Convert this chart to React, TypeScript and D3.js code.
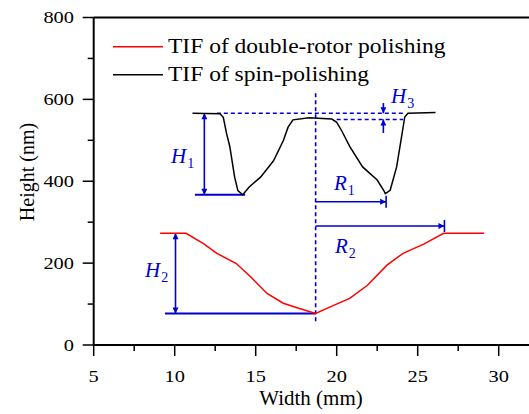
import React from "react";
import * as d3 from "d3";

// values
const redX = [9.1, 10.7, 11.8, 12.6, 13.8, 14.7, 15.7, 16.7, 17.7, 18.7, 19.6, 20.8, 21.9, 23.1, 24.1, 25.4, 26.6, 29.1];
const redY = [273, 273, 247, 224, 199, 166, 126, 102, 89, 77, 93, 114, 146, 195, 224, 247, 273, 273];

const blackX = [11.1, 12.8, 13.0, 13.2, 13.4, 13.7, 13.9, 14.2, 14.6, 15.3, 16.1, 16.7, 17.0, 17.3, 18.3, 19.7, 20.0, 20.3, 20.8, 21.6, 22.5, 22.9, 23.0, 23.3, 23.7, 24.0, 24.2, 24.4, 26.1];
const blackY = [566, 565, 556, 517, 485, 410, 377, 367, 386, 410, 450, 499, 532, 550, 555, 552, 544, 524, 485, 435, 403, 378, 370, 378, 435, 508, 557, 566, 568];

const xMajor = [5, 10, 15, 20, 25, 30];
const xMinor = [7.5, 12.5, 17.5, 22.5, 27.5];
const yMajor = [0, 200, 400, 600, 800];
const yMinor = [100, 300, 500, 700];

const legendLabels = ["TIF of double-rotor polishing", "TIF of spin-polishing"];
const seriesColors = ["#ff0000", "#000000"];

const BLUE = "#0000d0";
const SERIF = "'Liberation Serif', 'Times New Roman', serif";

const x = d3.scaleLinear().domain([5, 32.5]).range([93.7, 539.2]);
const y = d3.scaleLinear().domain([0, 800]).range([345, 17.5]);

const line = d3
  .line<[number, number]>()
  .x((d) => x(d[0]))
  .y((d) => y(d[1]));

const zip = (a: number[], b: number[]) => a.map((v, i) => [v, b[i]] as [number, number]);

// text stretched horizontally like the reference
const ST = ({ px, py, size, sx = 1, anchor = "start", children, fill = "#000", italic = false }: any) => (
  <text
    transform={`translate(${px},${py}) scale(${sx},1)`}
    fontSize={size}
    textAnchor={anchor}
    fill={fill}
    fontFamily={SERIF}
    fontStyle={italic ? "italic" : "normal"}
  >
    {children}
  </text>
);

const Sym = ({ px, py, letter, sub }: any) => (
  <text x={px} y={py} fill={BLUE} fontFamily={SERIF} fontSize={21}>
    <tspan fontStyle="italic">{letter}</tspan>
    <tspan fontSize={14} dy={5} dx={1}>{sub}</tspan>
  </text>
);

export default function App() {
  const xc = 18.7;
  return (
    <svg width={529} height={414} style={{ position: "absolute", left: 0, top: 0, background: "#fff" }}>
      <defs>
        <marker id="ah" viewBox="0 0 10 10" refX={10} refY={5} markerWidth={7} markerHeight={6} orient="auto-start-reverse" markerUnits="userSpaceOnUse">
          <path d="M0,0 L10,5 L0,10 z" fill={BLUE} />
        </marker>
      </defs>

      {/* frame */}
      <line x1={x(5)} x2={x(5)} y1={y(800)} y2={y(0)} stroke="#000" strokeWidth={2} />
      <line x1={x(5)} x2={540} y1={y(0)} y2={y(0)} stroke="#000" strokeWidth={2} />
      <line x1={x(5)} x2={540} y1={y(800)} y2={y(800)} stroke="#000" strokeWidth={2} />

      {xMajor.map((t) => (
        <g key={"xm" + t}>
          <line x1={x(t)} x2={x(t)} y1={y(0)} y2={y(0) + 11} stroke="#000" strokeWidth={1.5} />
          <ST px={x(t)} py={381.7} size={17} sx={1.2} anchor="middle">{t}</ST>
        </g>
      ))}
      {xMinor.map((t) => (
        <line key={"xn" + t} x1={x(t)} x2={x(t)} y1={y(0)} y2={y(0) + 6} stroke="#000" strokeWidth={1.5} />
      ))}
      {yMajor.map((t) => (
        <g key={"ym" + t}>
          <line x1={x(5) - 11} x2={x(5)} y1={y(t)} y2={y(t)} stroke="#000" strokeWidth={1.5} />
          <ST px={74} py={y(t) + 5.7} size={17} sx={1.2} anchor="end">{t}</ST>
        </g>
      ))}
      {yMinor.map((t) => (
        <line key={"yn" + t} x1={x(5) - 6} x2={x(5)} y1={y(t)} y2={y(t)} stroke="#000" strokeWidth={1.5} />
      ))}

      <ST px={311} py={405} size={20} sx={1.05} anchor="middle">Width (mm)</ST>
      <text transform="translate(34,172) rotate(-90)" fontSize={20} textAnchor="middle" fontFamily={SERIF}>
        Height (nm)
      </text>

      {/* legend */}
      {legendLabels.map((l, i) => (
        <g key={l}>
          <line x1={113} x2={163} y1={46.7 + i * 28} y2={46.7 + i * 28} stroke={seriesColors[i]} strokeWidth={1.5} />
          <ST px={168} py={53.3 + i * 27.2} size={21} sx={1.12}>{l}</ST>
        </g>
      ))}

      {/* annotations */}
      <g stroke={BLUE} strokeWidth={1.6} fill="none">
        <line x1={x(xc)} x2={x(xc)} y1={y(615)} y2={y(57)} strokeDasharray="4,3" />
        <line x1={x(12.6)} x2={x(24.2)} y1={y(566)} y2={y(566)} strokeDasharray="4,3" />
        <line x1={x(20.0)} x2={x(24.1)} y1={y(551)} y2={y(551)} strokeDasharray="4,3" />

        <line x1={x(11.83)} x2={x(11.83)} y1={y(566)} y2={y(367)} markerStart="url(#ah)" markerEnd="url(#ah)" />
        <line x1={x(11.25)} x2={x(14.35)} y1={y(367)} y2={y(367)} strokeWidth={2} />

        <line x1={x(10.05)} x2={x(10.05)} y1={y(273)} y2={y(77)} markerStart="url(#ah)" markerEnd="url(#ah)" />
        <line x1={x(9.4)} x2={x(xc)} y1={y(77)} y2={y(77)} strokeWidth={2} />

        <line x1={x(22.88)} x2={x(22.88)} y1={y(591)} y2={y(566)} markerEnd="url(#ah)" />
        <line x1={x(22.88)} x2={x(22.88)} y1={y(518)} y2={y(551)} markerEnd="url(#ah)" />

        <line x1={x(xc)} x2={x(23.05)} y1={y(350)} y2={y(350)} markerEnd="url(#ah)" />
        <line x1={x(23.05)} x2={x(23.05)} y1={y(350) - 6} y2={y(350) + 6} />

        <line x1={x(xc)} x2={x(26.65)} y1={y(290.7)} y2={y(290.7)} markerEnd="url(#ah)" />
        <line x1={x(26.65)} x2={x(26.65)} y1={y(290.7) - 6} y2={y(290.7) + 6} />
      </g>

      <Sym px={171} py={163.3} letter="H" sub="1" />
      <Sym px={145} py={277} letter="H" sub="2" />
      <Sym px={391} py={103.3} letter="H" sub="3" />
      <Sym px={334} py={190} letter="R" sub="1" />
      <Sym px={335} py={253.3} letter="R" sub="2" />

      {/* curves */}
      <path d={line(zip(redX, redY)) || ""} fill="none" stroke={seriesColors[0]} strokeWidth={1.5} />
      <path d={line(zip(blackX, blackY)) || ""} fill="none" stroke={seriesColors[1]} strokeWidth={1.5} />
    </svg>
  );
}
